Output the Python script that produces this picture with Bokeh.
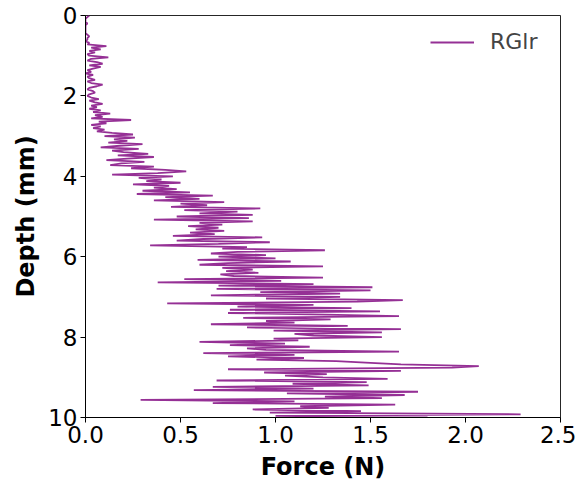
import numpy as np
from bokeh.plotting import figure
from bokeh.models import Range1d, FixedTicker, PrintfTickFormatter, Legend, LegendItem
from bokeh.embed import file_html
from bokeh.resources import INLINE

series_name = "RGlr"
depth_step_mm = 0.04

# Force (N) read per 1 mm of depth, 25 samples each (last block includes 10 mm)
force_0 = [0.02,0.01,0.0,0.0,0.0,0.01,0.0,0.0,0.0,0.0,0.0,0.0,0.01,0.02,0.01,0.01,0.0,0.02,0.01,0.11,0.03,0.08,0.02,0.05,0.01]
force_1 = [0.02,0.12,0.03,0.01,0.06,0.09,0.02,0.08,0.04,0.01,0.03,0.0,0.04,0.01,0.02,0.05,0.01,0.03,0.09,0.06,0.02,0.01,0.04,0.05,0.02]
force_2 = [0.01,0.03,0.07,0.02,0.05,0.09,0.03,0.06,0.02,0.08,0.04,0.13,0.05,0.09,0.03,0.24,0.07,0.11,0.03,0.08,0.04,0.10,0.06,0.14,0.25]
force_3 = [0.10,0.26,0.15,0.22,0.12,0.30,0.18,0.08,0.28,0.14,0.20,0.33,0.17,0.36,0.22,0.11,0.31,0.19,0.13,0.36,0.24,0.42,0.53,0.38,0.14]
force_4 = [0.46,0.28,0.40,0.32,0.50,0.25,0.44,0.36,0.48,0.30,0.55,0.27,0.67,0.42,0.60,0.36,0.73,0.50,0.64,0.45,0.92,0.52,0.80,0.60,0.88]
force_5 = [0.48,0.86,0.36,0.88,0.60,0.72,0.54,0.70,0.58,0.73,0.55,0.68,0.46,0.93,0.62,0.48,0.97,0.70,0.34,0.85,0.72,1.26,0.80,0.66,0.95]
force_6 = [0.70,1.00,0.59,1.08,0.75,0.60,1.25,0.72,0.88,0.74,0.91,0.71,0.78,1.25,0.52,1.03,0.38,1.20,0.70,1.51,0.69,1.50,0.92,1.34,0.66]
force_7 = [1.34,0.95,1.67,1.43,0.43,1.20,0.80,1.40,0.76,1.55,0.75,1.26,1.65,0.83,1.29,0.95,1.10,0.66,1.38,0.85,1.66,0.99,1.56,1.10,1.20]
force_8 = [1.56,0.99,1.12,0.60,1.05,0.76,1.18,0.85,0.95,1.65,0.62,1.10,0.75,1.15,0.90,1.32,1.50,1.66,2.07,1.93,0.75,1.66,0.94,1.27,1.05]
force_9 = [1.25,1.59,0.69,1.48,1.09,1.49,0.67,1.20,0.57,1.75,1.06,1.68,1.26,1.56,0.29,1.10,0.67,1.63,1.13,1.28,0.88,1.45,0.97,2.29,1.00,1.80]

x_ticks = [0.0, 0.5, 1.0, 1.5, 2.0, 2.5]
y_ticks = [0, 2, 4, 6, 8, 10]

force = force_0 + force_1 + force_2 + force_3 + force_4 + force_5 + force_6 + force_7 + force_8 + force_9
depth = [round(i * depth_step_mm, 3) for i in range(len(force))]

FONT = "DejaVu Sans"

p = figure(width=576, height=483, output_backend="svg", toolbar_location=None,
           x_range=Range1d(0, 2.5), y_range=Range1d(10, 0))
p.min_border_left = 85
p.min_border_right = 16
p.min_border_top = 15
p.min_border_bottom = 66
p.xgrid.visible = False
p.ygrid.visible = False
p.outline_line_color = "black"
p.outline_line_width = 1
p.outline_line_alpha = 0.85

r = p.line(force, depth, line_color="#8a1a8a", line_alpha=0.9, line_width=1.8)

for ax in (p.xaxis[0], p.yaxis[0]):
    ax.major_label_text_font = FONT
    ax.major_label_text_font_size = "23px"
    ax.major_label_text_color = "black"
    ax.axis_label_text_font = FONT
    ax.axis_label_text_font_size = "24px"
    ax.axis_label_text_font_style = "bold"
    ax.axis_label_text_color = "black"
    ax.major_tick_in = 0
    ax.major_tick_out = 5
    ax.minor_tick_in = 0
    ax.minor_tick_out = 0
    ax.axis_line_color = "black"
    ax.major_tick_line_color = "black"
    ax.major_label_standoff = 3

p.xaxis.axis_label_standoff = 7
p.yaxis.axis_label_standoff = 5
p.xaxis.ticker = FixedTicker(ticks=x_ticks)
p.yaxis.ticker = FixedTicker(ticks=y_ticks)
p.xaxis.formatter = PrintfTickFormatter(format="%.1f")
p.yaxis.formatter = PrintfTickFormatter(format="%d")
p.xaxis.axis_label = "Force (N)"
p.yaxis.axis_label = "Depth (mm)"

legend = Legend(items=[LegendItem(label=series_name, renderers=[r])],
                location=(335, 353))
legend.border_line_alpha = 0
legend.background_fill_alpha = 0
legend.label_text_font = FONT
legend.label_text_font_size = "22px"
legend.glyph_width = 44
legend.glyph_height = 20
legend.label_standoff = 16
legend.padding = 10
legend.margin = 0
p.add_layout(legend)

open("out.html", "w").write(file_html(p, INLINE))
